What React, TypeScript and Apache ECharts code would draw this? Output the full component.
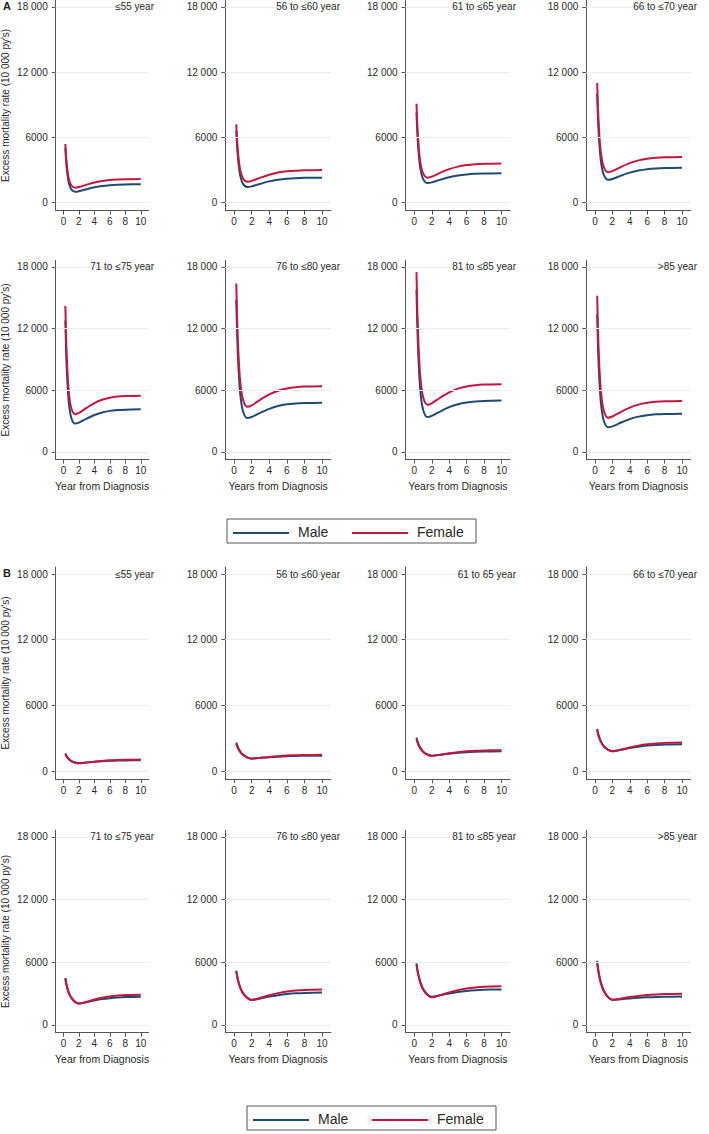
import React, { useEffect, useRef } from "react";
import * as echarts from "echarts";

// ---------- DATA ----------
const YEARS = [0.25, 0.35, 0.5, 0.7, 1, 1.5, 2, 3, 4, 5, 6, 7, 8, 10];
const X_TICKS = [0, 2, 4, 6, 8, 10];
const Y_TICKS = [0, 6000, 12000, 18000];

const TITLES_A = ["≤55 year", "56 to ≤60 year", "61 to ≤65 year", "66 to ≤70 year", "71 to ≤75 year", "76 to ≤80 year", "81 to ≤85 year", ">85 year"];
const TITLES_B = ["≤55 year", "56 to ≤60 year", "61 to 65 year", "66 to ≤70 year", "71 to ≤75 year", "76 to ≤80 year", "81 to ≤85 year", ">85 year"];

// Panel A
const maleA1 = [5000, 3800, 2680, 1800, 1240, 1000, 1050, 1240, 1410, 1540, 1610, 1655, 1675, 1690];
const femaleA1 = [5400, 4190, 3070, 2180, 1620, 1380, 1435, 1655, 1855, 1995, 2085, 2130, 2155, 2170];
const maleA2 = [6600, 5050, 3610, 2470, 1750, 1440, 1500, 1740, 1955, 2110, 2205, 2255, 2285, 2300];
const femaleA2 = [7200, 5620, 4140, 2980, 2250, 1930, 2005, 2305, 2570, 2765, 2880, 2945, 2980, 3000];
const maleA3 = [8300, 6350, 4530, 3100, 2190, 1800, 1865, 2115, 2340, 2500, 2600, 2655, 2680, 2700];
const femaleA3 = [9100, 7060, 5160, 3660, 2710, 2300, 2390, 2755, 3080, 3315, 3455, 3535, 3575, 3600];
const maleA4 = [10000, 7630, 5420, 3680, 2570, 2100, 2180, 2485, 2760, 2960, 3080, 3145, 3180, 3200];
const femaleA4 = [11000, 8540, 6240, 4440, 3290, 2800, 2900, 3290, 3640, 3890, 4045, 4130, 4170, 4200];
const maleA5 = [12800, 9790, 6980, 4770, 3360, 2760, 2860, 3245, 3595, 3845, 4000, 4080, 4120, 4150];
const femaleA5 = [14200, 11040, 8090, 5780, 4300, 3670, 3800, 4300, 4760, 5080, 5280, 5390, 5440, 5480];
const maleA6 = [14800, 11350, 8130, 5600, 3990, 3300, 3405, 3825, 4200, 4470, 4635, 4725, 4770, 4800];
const femaleA6 = [16400, 12800, 9440, 6800, 5120, 4400, 4540, 5100, 5600, 5960, 6180, 6300, 6360, 6400];
const maleA7 = [15800, 12080, 8610, 5880, 4145, 3400, 3510, 3960, 4360, 4650, 4825, 4920, 4970, 5000];
const femaleA7 = [17500, 13630, 10020, 7180, 5370, 4600, 4740, 5300, 5800, 6160, 6380, 6500, 6560, 6600];
const maleA8 = [13400, 10100, 7020, 4600, 3060, 2400, 2495, 2865, 3200, 3440, 3585, 3665, 3705, 3730];
const femaleA8 = [15200, 11640, 8320, 5710, 4050, 3340, 3455, 3905, 4310, 4605, 4780, 4880, 4930, 4960];

// Panel B
const maleB1 = [1600, 1440, 1265, 1100, 930, 780, 720, 772, 837, 889, 928, 954, 970, 980];
const femaleB1 = [1550, 1395, 1225, 1065, 905, 760, 700, 768, 853, 921, 972, 1006, 1026, 1040];
const maleB2 = [2600, 2340, 2050, 1775, 1500, 1250, 1150, 1200, 1262, 1312, 1350, 1375, 1390, 1400];
const femaleB2 = [2500, 2255, 1980, 1720, 1460, 1225, 1130, 1200, 1288, 1358, 1410, 1445, 1466, 1480];
const maleB3 = [3050, 2755, 2425, 2110, 1795, 1515, 1400, 1480, 1580, 1660, 1720, 1760, 1785, 1800];
const femaleB3 = [2900, 2625, 2320, 2035, 1745, 1485, 1380, 1485, 1615, 1720, 1795, 1850, 1880, 1900];
const maleB4 = [3850, 3480, 3070, 2680, 2290, 1945, 1800, 1930, 2090, 2225, 2320, 2385, 2425, 2450];
const femaleB4 = [3700, 3360, 2980, 2615, 2255, 1935, 1800, 1960, 2160, 2320, 2440, 2520, 2570, 2600];
const maleB5 = [4500, 4060, 3570, 3105, 2640, 2220, 2050, 2180, 2340, 2475, 2570, 2635, 2675, 2700];
const femaleB5 = [4400, 3975, 3505, 3060, 2615, 2215, 2050, 2220, 2430, 2600, 2730, 2815, 2865, 2900];
const maleB6 = [5200, 4695, 4135, 3605, 3070, 2595, 2400, 2540, 2715, 2855, 2960, 3030, 3070, 3100];
const femaleB6 = [5100, 4615, 4075, 3560, 3050, 2590, 2400, 2600, 2850, 3050, 3200, 3300, 3360, 3400];
const maleB7 = [5900, 5325, 4685, 4075, 3470, 2925, 2700, 2840, 3015, 3155, 3260, 3330, 3370, 3400];
const femaleB7 = [5800, 5235, 4605, 4005, 3405, 2870, 2650, 2860, 3120, 3330, 3490, 3595, 3660, 3700];
const maleB8 = [6150, 5475, 4725, 4010, 3300, 2665, 2400, 2465, 2545, 2610, 2655, 2690, 2705, 2720];
const femaleB8 = [5900, 5275, 4580, 3915, 3255, 2665, 2420, 2530, 2670, 2785, 2870, 2925, 2960, 2980];

const MALE = [maleA1, maleA2, maleA3, maleA4, maleA5, maleA6, maleA7, maleA8, maleB1, maleB2, maleB3, maleB4, maleB5, maleB6, maleB7, maleB8];
const FEMALE = [femaleA1, femaleA2, femaleA3, femaleA4, femaleA5, femaleA6, femaleA7, femaleA8, femaleB1, femaleB2, femaleB3, femaleB4, femaleB5, femaleB6, femaleB7, femaleB8];
const TITLES = [...TITLES_A, ...TITLES_B];

// ---------- LAYOUT / STYLE ----------
const FONT = "'Liberation Sans', Arial, Helvetica, sans-serif";
const MALE_COLOR = "#1f4a72";
const FEMALE_COLOR = "#c4173f";
const AXIS_COLOR = "#555555";
const TEXT_COLOR = "#2a2a2a";
const GRID_COLOR = "#e6eef1";

const COLS = [
  { left: 55.7, width: 92.8, titleRight: 154 },
  { left: 225.3, width: 105.6, titleRight: 340 },
  { left: 405.6, width: 104.6, titleRight: 516 },
  { left: 586.3, width: 104.4, titleRight: 697 },
];
const ROWS = [
  { top: 0, height: 210.7 },
  { top: 260.4, height: 199.2 },
  { top: 567, height: 212.1 },
  { top: 830.3, height: 202.4 },
];
const Y_MIN = -740;
const Y_MAX = 18640;

const fmt = (v: number) =>
  v >= 10000 ? `${Math.floor(v / 1000)} ${String(v % 1000).padStart(3, "0")}` : `${v}`;

function buildOption() {
  const grids: any[] = [];
  const xAxes: any[] = [];
  const yAxes: any[] = [];
  const series: any[] = [];
  const graphics: any[] = [];

  for (let i = 0; i < 16; i++) {
    const rowIdx = Math.floor(i / 4);
    const colIdx = i % 4;
    const col = COLS[colIdx];
    const row = ROWS[rowIdx];
    const isBottomRow = rowIdx === 1 || rowIdx === 3;
    grids.push({
      left: col.left,
      top: row.top,
      width: col.width,
      height: row.height,
      containLabel: false,
      outerBoundsMode: "none",
    });
    xAxes.push({
      type: "value",
      gridIndex: i,
      min: -1,
      max: 11,
      axisLine: { show: true, onZero: false, lineStyle: { color: AXIS_COLOR, width: 1 } },
      axisTick: { show: true, customValues: X_TICKS, length: 4, lineStyle: { color: AXIS_COLOR } },
      axisLabel: { show: true, customValues: X_TICKS, margin: 6, fontSize: 10, color: TEXT_COLOR, fontFamily: FONT },
      splitLine: { show: false },
      name: isBottomRow ? (colIdx === 0 ? "Year from Diagnosis" : "Years from Diagnosis") : "",
      nameLocation: "middle",
      nameGap: 21,
      nameTextStyle: { fontSize: 10.5, color: TEXT_COLOR, fontFamily: FONT },
    });
    yAxes.push({
      type: "value",
      gridIndex: i,
      min: Y_MIN,
      max: Y_MAX,
      axisLine: { show: true, onZero: false, lineStyle: { color: AXIS_COLOR, width: 1 } },
      axisTick: { show: true, customValues: Y_TICKS, length: 4, lineStyle: { color: AXIS_COLOR } },
      axisLabel: { show: true, customValues: Y_TICKS, formatter: fmt, margin: 8, fontSize: 10, color: TEXT_COLOR, fontFamily: FONT },
      splitLine: { show: false },
      name: colIdx === 0 ? "Excess mortality rate (10 000 py's)" : "",
      nameLocation: "middle",
      nameGap: 45,
      nameTextStyle: { fontSize: 10, color: TEXT_COLOR, fontFamily: FONT },
    });
    // gridlines
    series.push({
      type: "line",
      xAxisIndex: i,
      yAxisIndex: i,
      data: [],
      z: 1,
      silent: true,
      markLine: {
        silent: true,
        symbol: ["none", "none"],
        label: { show: false },
        lineStyle: { color: GRID_COLOR, width: 1, type: "solid" },
        emphasis: { disabled: true },
        data: Y_TICKS.map((v) => ({ yAxis: v })),
      },
    });
    series.push({
      name: "Male",
      type: "line",
      xAxisIndex: i,
      yAxisIndex: i,
      data: YEARS.map((x, k) => [x, MALE[i][k]]),
      showSymbol: false,
      smooth: 0.3,
      z: 3,
      lineStyle: { color: MALE_COLOR, width: 2 },
      itemStyle: { color: MALE_COLOR },
    });
    series.push({
      name: "Female",
      type: "line",
      xAxisIndex: i,
      yAxisIndex: i,
      data: YEARS.map((x, k) => [x, FEMALE[i][k]]),
      showSymbol: false,
      smooth: 0.3,
      z: 4,
      lineStyle: { color: FEMALE_COLOR, width: 2 },
      itemStyle: { color: FEMALE_COLOR },
    });
    // panel title
    const yPix = row.top + ((Y_MAX - 18000) / (Y_MAX - Y_MIN)) * row.height;
    graphics.push({
      type: "text",
      x: col.titleRight,
      y: yPix,
      z: 10,
      style: {
        text: TITLES[i],
        align: "right",
        verticalAlign: "middle",
        fontSize: 10,
        fontFamily: FONT,
        fill: TEXT_COLOR,
        backgroundColor: "rgba(255,255,255,0)",
      },
    });
  }

  // panel letters
  graphics.push({
    type: "text", x: 3, y: 6,
    style: { text: "A", fontSize: 11, fontWeight: "bold", fontFamily: FONT, fill: "#222", verticalAlign: "middle" },
  });
  graphics.push({
    type: "text", x: 3, y: 573,
    style: { text: "B", fontSize: 11, fontWeight: "bold", fontFamily: FONT, fill: "#222", verticalAlign: "middle" },
  });

  // legends
  const legend = (x0: number, y0: number) => [
    { type: "rect", shape: { x: x0, y: y0, width: 249, height: 24 }, style: { fill: "#fff", stroke: "#555", lineWidth: 1 } },
    { type: "line", shape: { x1: x0 + 6, y1: y0 + 14, x2: x0 + 62, y2: y0 + 14 }, style: { stroke: MALE_COLOR, lineWidth: 2 } },
    { type: "text", x: x0 + 71, y: y0 + 13, style: { text: "Male", fontSize: 14, fontFamily: FONT, fill: TEXT_COLOR, verticalAlign: "middle" } },
    { type: "line", shape: { x1: x0 + 125, y1: y0 + 14, x2: x0 + 181, y2: y0 + 14 }, style: { stroke: FEMALE_COLOR, lineWidth: 2 } },
    { type: "text", x: x0 + 190, y: y0 + 13, style: { text: "Female", fontSize: 14, fontFamily: FONT, fill: TEXT_COLOR, verticalAlign: "middle" } },
  ];
  graphics.push(...legend(227, 519));
  graphics.push(...legend(247, 1106));

  return {
    animation: false,
    backgroundColor: "#ffffff",
    grid: grids,
    xAxis: xAxes,
    yAxis: yAxes,
    series,
    graphic: graphics,
  };
}

export default function App() {
  const ref = useRef<HTMLDivElement>(null);
  useEffect(() => {
    if (!ref.current) return;
    const chart = echarts.init(ref.current, undefined, { renderer: "svg" });
    chart.setOption(buildOption() as any);
    return () => chart.dispose();
  }, []);
  return (
    <div
      ref={ref}
      style={{ position: "absolute", left: 0, top: 0, width: 709, height: 1134, background: "#fff" }}
    />
  );
}
